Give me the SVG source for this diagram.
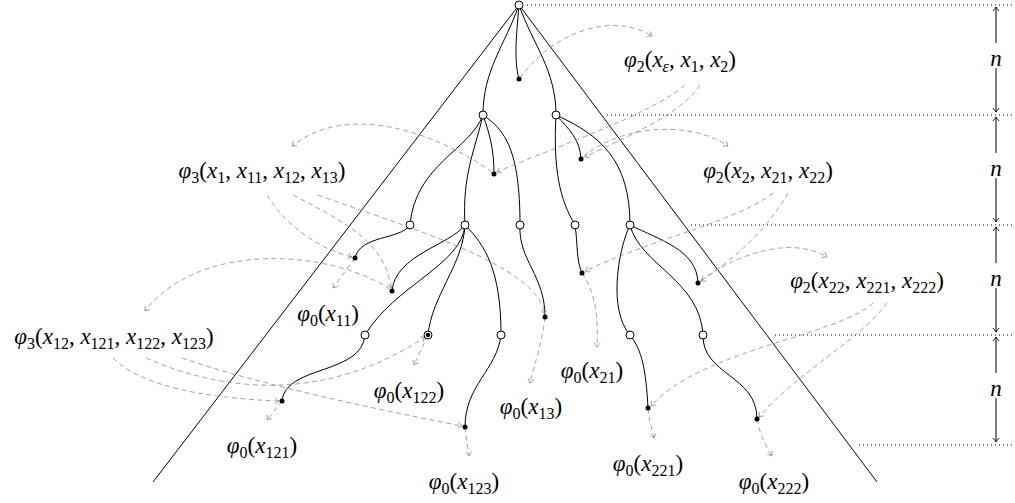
<svg xmlns="http://www.w3.org/2000/svg" width="1015" height="503" viewBox="0 0 1015 503">
<defs>
<style>
text{font-family:'Liberation Serif','Times New Roman','DejaVu Serif',serif;font-size:23px;fill:#000}
.i{font-style:italic}
.s{font-size:16px}
.e{fill:none;stroke:#000;stroke-width:1}
.d{fill:none;stroke:#8c8c8c;stroke-width:0.8;stroke-dasharray:5 3.5;marker-end:url(#ga)}
.dot{fill:none;stroke:#000;stroke-width:1;stroke-dasharray:1 3}
.open{fill:#fff;stroke:#000;stroke-width:1}
.full{fill:#000}
.ar{fill:none;stroke:#000;stroke-width:1;marker-end:url(#ba)}
</style>
<marker id="ga" markerUnits="userSpaceOnUse" viewBox="-6 -5 8 10" refX="0" refY="0" markerWidth="8" markerHeight="10" orient="auto">
<path d="M-4,-3 Q-1.5,-0.6 0,0 Q-1.5,0.6 -4,3" fill="none" stroke="#8c8c8c" stroke-width="0.8"/>
</marker>
<marker id="ba" markerUnits="userSpaceOnUse" viewBox="-6 -5 8 10" refX="0" refY="0" markerWidth="8" markerHeight="10" orient="auto">
<path d="M-4,-3.2 Q-1.5,-0.6 0,0 Q-1.5,0.6 -4,3.2" fill="none" stroke="#000" stroke-width="0.9"/>
</marker>
</defs>
<g id="frame">
<path class="e" d="M519,5 L153,482"/>
<path class="e" d="M519,5 L877,482"/>
<path class="dot" d="M527,5 H1015"/>
<path class="dot" d="M607,115 H1015"/>
<path class="dot" d="M691,225 H1015"/>
<path class="dot" d="M775,335 H1015"/>
<path class="dot" d="M859,445 H1015"/>
</g>
<g id="measures">
<path class="ar" d="M996,43 V7"/><path class="ar" d="M996,68 V112"/>
<path class="ar" d="M996,153 V117"/><path class="ar" d="M996,178 V222"/>
<path class="ar" d="M996,263 V227"/><path class="ar" d="M996,288 V332"/>
<path class="ar" d="M996,373 V337"/><path class="ar" d="M996,398 V442"/>
<text class="i" x="996" y="66" text-anchor="middle">n</text>
<text class="i" x="996" y="176" text-anchor="middle">n</text>
<text class="i" x="996" y="286" text-anchor="middle">n</text>
<text class="i" x="996" y="396" text-anchor="middle">n</text>
</g>
<g id="connectors">
<path class="e" d="M519,5 C516,40 514,60 519,79"/>
<path class="e" d="M519,5 C505,45 483,70 483,115"/>
<path class="e" d="M519,5 C533,45 556,70 556,115"/>
<path class="e" d="M483,115 C490,135 494,150 494,174"/>
<path class="e" d="M483,115 C470,150 415,165 410,225"/>
<path class="e" d="M483,115 C475,150 462,175 465,225"/>
<path class="e" d="M483,115 C505,130 520,150 520,225"/>
<path class="e" d="M556,115 C570,130 580,140 581,159"/>
<path class="e" d="M556,115 C553,170 560,200 575,225"/>
<path class="e" d="M556,115 C600,135 630,160 630,225"/>
<path class="e" d="M410,225 C400,240 360,235 355,258"/>
<path class="e" d="M465,225 C450,245 395,255 392,291"/>
<path class="e" d="M465,225 C462,265 395,285 365,335"/>
<path class="e" d="M465,225 C463,265 432,295 428,335"/>
<path class="e" d="M465,225 C485,245 501,270 501,335"/>
<path class="e" d="M520,225 C518,260 545,275 545,317"/>
<path class="e" d="M575,225 C578,245 576,260 582,273"/>
<path class="e" d="M630,225 C660,240 697,250 698,283"/>
<path class="e" d="M630,225 C618,250 608,310 630,335"/>
<path class="e" d="M630,225 C640,265 700,280 703,335"/>
<path class="e" d="M365,335 C362,375 285,365 282,401"/>
<path class="e" d="M501,335 C497,370 465,385 465,427"/>
<path class="e" d="M630,335 C642,350 646,370 648,408"/>
<path class="e" d="M703,335 C702,375 757,375 757,419"/>
<path class="d" d="M520,78 C550,35 610,10 652,36"/>
<path class="d" d="M685,85 C650,115 560,145 497,172"/>
<path class="d" d="M700,85 C680,115 630,135 585,157"/>
<path class="d" d="M583,157 C620,125 690,120 728,146"/>
<path class="d" d="M773,193 C740,220 650,240 585,271"/>
<path class="d" d="M788,193 C770,225 740,255 701,281"/>
<path class="d" d="M700,281 C735,255 790,235 827,257"/>
<path class="d" d="M873,303 C840,335 700,350 651,406"/>
<path class="d" d="M887,303 C860,340 800,370 759,417"/>
<path class="d" d="M492,172 C440,135 350,100 292,146"/>
<path class="d" d="M267,195 C285,225 320,250 352,257"/>
<path class="d" d="M293,195 C340,220 385,240 391,288"/>
<path class="d" d="M318,195 C400,225 540,265 544,314"/>
<path class="d" d="M390,289 C330,250 200,240 145,311"/>
<path class="d" d="M113,358 C140,385 200,398 279,401"/>
<path class="d" d="M146,358 C230,395 330,400 425,337"/>
<path class="d" d="M182,358 C260,385 380,410 462,426"/>
<path class="d" d="M355,258 L333,288"/>
<path class="d" d="M428,335 L414,365"/>
<path class="d" d="M282,401 L267,420"/>
<path class="d" d="M465,427 C466,440 468,448 469,456"/>
<path class="d" d="M545,317 C542,345 534,365 530,383"/>
<path class="d" d="M582,273 C597,295 598,320 597,347"/>
<path class="d" d="M648,408 C649,420 652,430 654,438"/>
<path class="d" d="M757,419 C760,435 766,447 772,456"/>
</g>
<g id="n-root"><circle class="open" cx="519" cy="5" r="4"/></g>
<g id="n-1"><circle class="open" cx="483" cy="115" r="4"/></g>
<g id="n-2"><circle class="open" cx="556" cy="115" r="4"/></g>
<g id="n-11"><circle class="open" cx="410" cy="225" r="4"/></g>
<g id="n-12"><circle class="open" cx="465" cy="225" r="4"/></g>
<g id="n-13"><circle class="open" cx="520" cy="225" r="4"/></g>
<g id="n-21"><circle class="open" cx="575" cy="225" r="4"/></g>
<g id="n-22"><circle class="open" cx="630" cy="225" r="4"/></g>
<g id="n-121"><circle class="open" cx="365" cy="335" r="4"/></g>
<g id="n-122"><circle class="open" cx="428" cy="335" r="4"/><circle class="full" cx="428" cy="335" r="2.3"/></g>
<g id="n-123"><circle class="open" cx="501" cy="335" r="4"/></g>
<g id="n-221"><circle class="open" cx="630" cy="335" r="4"/></g>
<g id="n-222"><circle class="open" cx="703" cy="335" r="4"/></g>
<g id="d-e"><circle class="full" cx="519" cy="79" r="2.5"/></g>
<g id="d-1"><circle class="full" cx="494" cy="174" r="2.5"/></g>
<g id="d-2"><circle class="full" cx="581" cy="159" r="2.5"/></g>
<g id="d-11"><circle class="full" cx="355" cy="258" r="2.5"/></g>
<g id="d-12"><circle class="full" cx="392" cy="291" r="2.5"/></g>
<g id="d-13"><circle class="full" cx="545" cy="317" r="2.5"/></g>
<g id="d-21"><circle class="full" cx="582" cy="273" r="2.5"/></g>
<g id="d-22"><circle class="full" cx="698" cy="283" r="2.5"/></g>
<g id="d-121"><circle class="full" cx="282" cy="401" r="2.5"/></g>
<g id="d-123"><circle class="full" cx="465" cy="427" r="2.5"/></g>
<g id="d-221"><circle class="full" cx="648" cy="408" r="2.5"/></g>
<g id="d-222"><circle class="full" cx="757" cy="419" r="2.5"/></g>
<g id="labels" text-anchor="middle">
<text x="680" y="67"><tspan class="i">φ</tspan><tspan class="s" dy="5">2</tspan><tspan dy="-5">(</tspan><tspan class="i">x</tspan><tspan class="s i" dy="5">ε</tspan><tspan dy="-5">, </tspan><tspan class="i">x</tspan><tspan class="s" dy="5">1</tspan><tspan dy="-5">, </tspan><tspan class="i">x</tspan><tspan class="s" dy="5">2</tspan><tspan dy="-5">)</tspan></text>
<text x="768" y="178"><tspan class="i">φ</tspan><tspan class="s" dy="5">2</tspan><tspan dy="-5">(</tspan><tspan class="i">x</tspan><tspan class="s" dy="5">2</tspan><tspan dy="-5">, </tspan><tspan class="i">x</tspan><tspan class="s" dy="5">21</tspan><tspan dy="-5">, </tspan><tspan class="i">x</tspan><tspan class="s" dy="5">22</tspan><tspan dy="-5">)</tspan></text>
<text x="867" y="288"><tspan class="i">φ</tspan><tspan class="s" dy="5">2</tspan><tspan dy="-5">(</tspan><tspan class="i">x</tspan><tspan class="s" dy="5">22</tspan><tspan dy="-5">, </tspan><tspan class="i">x</tspan><tspan class="s" dy="5">221</tspan><tspan dy="-5">, </tspan><tspan class="i">x</tspan><tspan class="s" dy="5">222</tspan><tspan dy="-5">)</tspan></text>
<text x="262" y="178"><tspan class="i">φ</tspan><tspan class="s" dy="5">3</tspan><tspan dy="-5">(</tspan><tspan class="i">x</tspan><tspan class="s" dy="5">1</tspan><tspan dy="-5">, </tspan><tspan class="i">x</tspan><tspan class="s" dy="5">11</tspan><tspan dy="-5">, </tspan><tspan class="i">x</tspan><tspan class="s" dy="5">12</tspan><tspan dy="-5">, </tspan><tspan class="i">x</tspan><tspan class="s" dy="5">13</tspan><tspan dy="-5">)</tspan></text>
<text x="114" y="344"><tspan class="i">φ</tspan><tspan class="s" dy="5">3</tspan><tspan dy="-5">(</tspan><tspan class="i">x</tspan><tspan class="s" dy="5">12</tspan><tspan dy="-5">, </tspan><tspan class="i">x</tspan><tspan class="s" dy="5">121</tspan><tspan dy="-5">, </tspan><tspan class="i">x</tspan><tspan class="s" dy="5">122</tspan><tspan dy="-5">, </tspan><tspan class="i">x</tspan><tspan class="s" dy="5">123</tspan><tspan dy="-5">)</tspan></text>
<text x="328" y="321"><tspan class="i">φ</tspan><tspan class="s" dy="5">0</tspan><tspan dy="-5">(</tspan><tspan class="i">x</tspan><tspan class="s" dy="5">11</tspan><tspan dy="-5">)</tspan></text>
<text x="409" y="398"><tspan class="i">φ</tspan><tspan class="s" dy="5">0</tspan><tspan dy="-5">(</tspan><tspan class="i">x</tspan><tspan class="s" dy="5">122</tspan><tspan dy="-5">)</tspan></text>
<text x="262" y="453"><tspan class="i">φ</tspan><tspan class="s" dy="5">0</tspan><tspan dy="-5">(</tspan><tspan class="i">x</tspan><tspan class="s" dy="5">121</tspan><tspan dy="-5">)</tspan></text>
<text x="464" y="489"><tspan class="i">φ</tspan><tspan class="s" dy="5">0</tspan><tspan dy="-5">(</tspan><tspan class="i">x</tspan><tspan class="s" dy="5">123</tspan><tspan dy="-5">)</tspan></text>
<text x="531" y="414"><tspan class="i">φ</tspan><tspan class="s" dy="5">0</tspan><tspan dy="-5">(</tspan><tspan class="i">x</tspan><tspan class="s" dy="5">13</tspan><tspan dy="-5">)</tspan></text>
<text x="592" y="378"><tspan class="i">φ</tspan><tspan class="s" dy="5">0</tspan><tspan dy="-5">(</tspan><tspan class="i">x</tspan><tspan class="s" dy="5">21</tspan><tspan dy="-5">)</tspan></text>
<text x="648" y="471"><tspan class="i">φ</tspan><tspan class="s" dy="5">0</tspan><tspan dy="-5">(</tspan><tspan class="i">x</tspan><tspan class="s" dy="5">221</tspan><tspan dy="-5">)</tspan></text>
<text x="774" y="489"><tspan class="i">φ</tspan><tspan class="s" dy="5">0</tspan><tspan dy="-5">(</tspan><tspan class="i">x</tspan><tspan class="s" dy="5">222</tspan><tspan dy="-5">)</tspan></text>
</g>
</svg>
